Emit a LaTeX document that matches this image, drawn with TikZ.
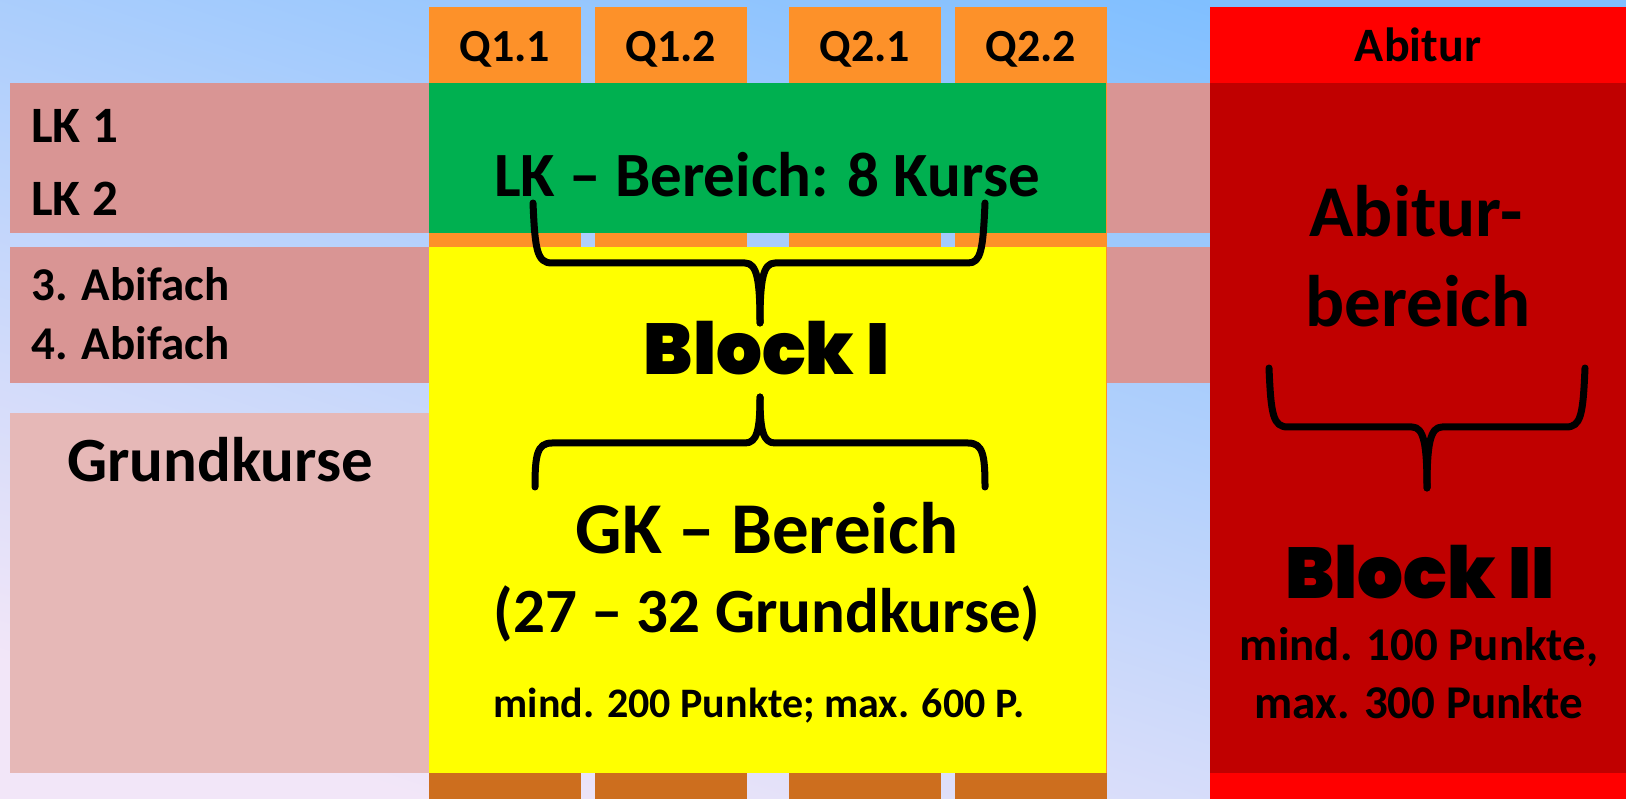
\documentclass[tikz,border=0pt]{standalone}
\usepackage{fontspec}
\setmainfont{Carlito}
\newfontfamily\blockfont{Poppins Black}
\newcommand{\fsz}[1]{\fontsize{#1}{#1}\selectfont}
\definecolor{bgtop}{RGB}{128,191,255}
\definecolor{bgmid}{RGB}{174,206,242}
\definecolor{bgbot}{RGB}{242,230,248}
\definecolor{qorange}{RGB}{253,145,41}
\definecolor{qbrown}{RGB}{205,110,30}
\definecolor{lkpink}{RGB}{217,149,148}
\definecolor{gkpink}{RGB}{230,184,183}
\definecolor{lkgreen}{RGB}{0,176,80}
\definecolor{gkyellow}{RGB}{255,255,0}
\definecolor{abired}{RGB}{255,0,0}
\definecolor{abidark}{RGB}{192,0,0}
\begin{document}
\begin{tikzpicture}[x=1pt,y=-1pt,
  txt/.style={inner sep=0pt},
  brace/.style={line width=7pt,line cap=round,line join=round}]
\useasboundingbox (0,0) rectangle (1626,799);
\shade[top color=bgtop,middle color=bgmid,bottom color=bgbot,shading angle=-18] (0,0) rectangle (1626,799);

\fill[lkpink] (10,83) rectangle (1210,233);
\fill[lkpink] (10,247) rectangle (1210,383);
\fill[gkpink] (10,413) rectangle (430,773);

\foreach \x/\name/\lbl in {429/q11/Q1.1,595/q12/Q1.2,789/q21/Q2.1,955/q22/Q2.2} {
  \fill[qorange] (\x,7) rectangle (\x+152,773);
  \fill[qbrown] (\x,773) rectangle (\x+152,799);
  \node[txt,anchor=base,font=\bfseries\fsz{46}] (\name) at (\x+76,62) {\lbl};
}

\fill[lkgreen] (429,83) rectangle (1106,233);
\fill[gkyellow] (429,247) rectangle (1106,773);
\fill[abired] (1210,7) rectangle (1626,799);
\fill[abidark] (1210,83) rectangle (1626,773);

\node[txt,anchor=base west,font=\bfseries\fsz{51}] (lk1) at (31,143) {LK 1};
\node[txt,anchor=base west,font=\bfseries\fsz{51}] (lk2) at (31,216) {LK 2};
\node[txt,anchor=base west,font=\bfseries\fsz{47}] (abi3) at (31,301) {3. Abifach};
\node[txt,anchor=base west,font=\bfseries\fsz{47}] (abi4) at (31,360) {4. Abifach};
\node[txt,anchor=base,font=\bfseries\fsz{63}] (gk) at (220,482) {Grundkurse};

\node[txt,anchor=base,font=\bfseries\fsz{63}] (lkb) at (767,197) {LK – Bereich: 8 Kurse};
\node[txt,anchor=base,font=\blockfont\fsz{72}] (blockI) at (767,375) {Block I};
\node[txt,anchor=base,font=\bfseries\fsz{73}] (gkb) at (767,553) {GK – Bereich};
\node[txt,anchor=base,font=\bfseries\fsz{63}] (gkn) at (767,632) {(27 – 32 Grundkurse)};
\node[txt,anchor=base,font=\bfseries\fsz{42}] (gkp) at (759,717) {mind. 200 Punkte; max. 600 P.};

\node[txt,anchor=base,font=\bfseries\fsz{48}] (abitur) at (1418,62) {Abitur};
\node[txt,anchor=base,font=\bfseries\fsz{73}] (abiI) at (1416,237) {Abitur-};
\node[txt,anchor=base,font=\bfseries\fsz{73}] (abiII) at (1418,327) {bereich};
\node[txt,anchor=base,font=\blockfont\fsz{72}] (blockII) at (1420,598) {Block II};
\node[txt,anchor=base,font=\bfseries\fsz{47}] (pII1) at (1419,660) {mind. 100 Punkte,};
\node[txt,anchor=base,font=\bfseries\fsz{47}] (pII2) at (1419,718) {max. 300 Punkte};

\draw[brace] (533,203) .. controls (535,250) and (537,263) .. (552,263) -- (745,263) .. controls (757,263) and (760,280) .. (760,323);
\draw[brace] (985,203) .. controls (983,250) and (981,263) .. (968,263) -- (775,263) .. controls (763,263) and (760,280) .. (760,323);
\draw[brace] (760,397) .. controls (760,430) and (757,443) .. (745,443) -- (552,443) .. controls (537,443) and (535,455) .. (535,487);
\draw[brace] (760,397) .. controls (760,430) and (763,443) .. (775,443) -- (968,443) .. controls (983,443) and (985,455) .. (985,487);
\draw[brace] (1269,368) .. controls (1271,415) and (1273,427) .. (1288,427) -- (1412,427) .. controls (1424,427) and (1427,445) .. (1427,488);
\draw[brace] (1585,368) .. controls (1583,415) and (1581,427) .. (1566,427) -- (1442,427) .. controls (1430,427) and (1427,445) .. (1427,488);
\end{tikzpicture}
\end{document}
